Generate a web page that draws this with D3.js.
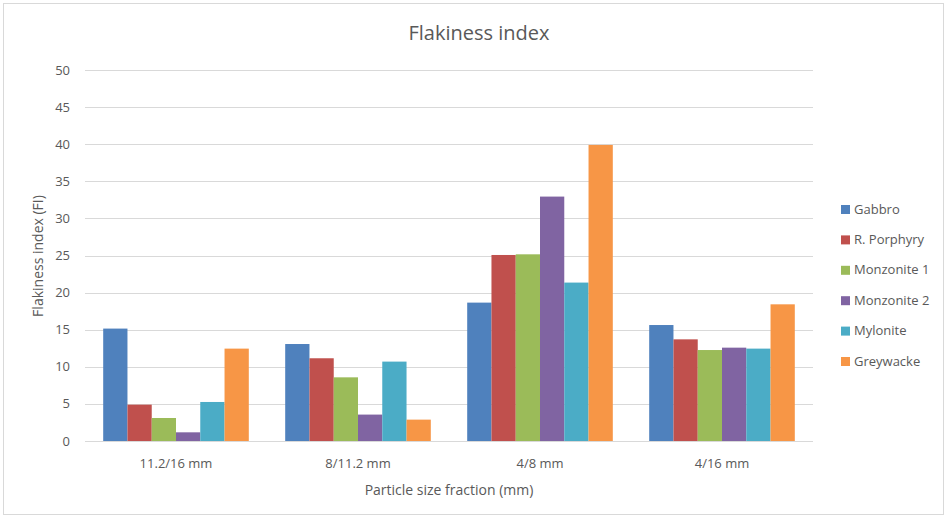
<!DOCTYPE html>
<html>
<head>
<meta charset="utf-8">
<script src="https://cdn.jsdelivr.net/npm/d3@7"></script>
<style>
  body { margin: 0; background: #fff; }
  svg text { font-family: "Open Sans", "Liberation Sans", sans-serif; fill: #595959; }
</style>
</head>
<body>
<svg id="chart" width="948" height="518"></svg>
<script>
// chart data
const categories = ['11.2/16 mm', '8/11.2 mm', '4/8 mm', '4/16 mm'];
const seriesNames = ['Gabbro', 'R. Porphyry', 'Monzonite 1', 'Monzonite 2', 'Mylonite', 'Greywacke'];
const gabbro = [15.15, 13.07, 18.65, 15.63];
const porphyry = [4.9, 11.15, 25.07, 13.7];
const monzonite1 = [3.1, 8.58, 25.16, 12.26];
const monzonite2 = [1.17, 3.56, 32.94, 12.58];
const mylonite = [5.26, 10.7, 21.35, 12.45];
const greywacke = [12.45, 2.88, 39.9, 18.42];
const yTicks = [0, 5, 10, 15, 20, 25, 30, 35, 40, 45, 50];
const colors = ['#4F81BD', '#C0504D', '#9BBB59', '#8064A2', '#4BACC6', '#F79646'];

const allSeries = [gabbro, porphyry, monzonite1, monzonite2, mylonite, greywacke];

const svg = d3.select('#chart');

// outer border
svg.append('rect')
    .attr('x', 3.5).attr('y', 3.5)
    .attr('width', 940).attr('height', 511)
    .attr('fill', 'none')
    .attr('stroke', '#d9d9d9');

const plot = { left: 85, right: 813, top: 70, bottom: 441 };

const x = d3.scaleBand()
    .domain(categories)
    .range([plot.left, plot.right])
    .paddingInner(0.2)
    .paddingOuter(0.1);

const xInner = d3.scaleBand()
    .domain(seriesNames)
    .range([0, x.bandwidth()]);

const y = d3.scaleLinear()
    .domain([0, 50])
    .range([plot.bottom, plot.top]);

// gridlines
svg.append('g')
    .selectAll('line')
    .data(yTicks)
    .enter()
    .append('line')
    .attr('x1', plot.left).attr('x2', plot.right)
    .attr('y1', d => Math.round(y(d)) + 0.5)
    .attr('y2', d => Math.round(y(d)) + 0.5)
    .attr('stroke', '#d9d9d9');

// y tick labels
svg.append('g')
    .selectAll('text')
    .data(yTicks)
    .enter()
    .append('text')
    .attr('x', 70)
    .attr('y', d => y(d))
    .attr('dy', '0.35em')
    .attr('text-anchor', 'end')
    .style('font-size', '13px')
    .text(d => d);

// bars
const groups = svg.append('g')
    .selectAll('g')
    .data(seriesNames)
    .enter()
    .append('g')
    .attr('fill', (d, i) => colors[i]);

groups.selectAll('rect')
    .data((name, i) => allSeries[i].map((v, j) => ({ name: name, cat: categories[j], value: v })))
    .enter()
    .append('rect')
    .attr('x', d => x(d.cat) + xInner(d.name))
    .attr('y', d => y(d.value))
    .attr('width', xInner.bandwidth())
    .attr('height', d => y(0) - y(d.value));

// x axis line
svg.append('line')
    .attr('x1', plot.left).attr('x2', plot.right)
    .attr('y1', plot.bottom + 0.5).attr('y2', plot.bottom + 0.5)
    .attr('stroke', '#d9d9d9');

// x tick labels
svg.append('g')
    .selectAll('text')
    .data(categories)
    .enter()
    .append('text')
    .attr('x', d => x(d) + x.bandwidth() / 2)
    .attr('y', 468)
    .attr('text-anchor', 'middle')
    .style('font-size', '13px')
    .text(d => d);

// titles
svg.append('text')
    .attr('x', 479).attr('y', 40)
    .attr('text-anchor', 'middle')
    .style('font-size', '20px')
    .text('Flakiness index');

svg.append('text')
    .attr('x', 449).attr('y', 495)
    .attr('text-anchor', 'middle')
    .style('font-size', '14px')
    .text('Particle size fraction (mm)');

svg.append('text')
    .attr('transform', 'translate(43,256) rotate(-90)')
    .attr('text-anchor', 'middle')
    .style('font-size', '14px')
    .text('Flakiness index (FI)');

// legend
const legend = svg.append('g')
    .selectAll('g')
    .data(seriesNames)
    .enter()
    .append('g')
    .attr('transform', (d, i) => `translate(841,${209 + i * 30.4})`);

legend.append('rect')
    .attr('x', 0).attr('y', -4)
    .attr('width', 9).attr('height', 9)
    .attr('fill', (d, i) => colors[i]);

legend.append('text')
    .attr('x', 13)
    .attr('y', 0)
    .attr('dy', '0.35em')
    .style('font-size', '13px')
    .text(d => d);
</script>
</body>
</html>
